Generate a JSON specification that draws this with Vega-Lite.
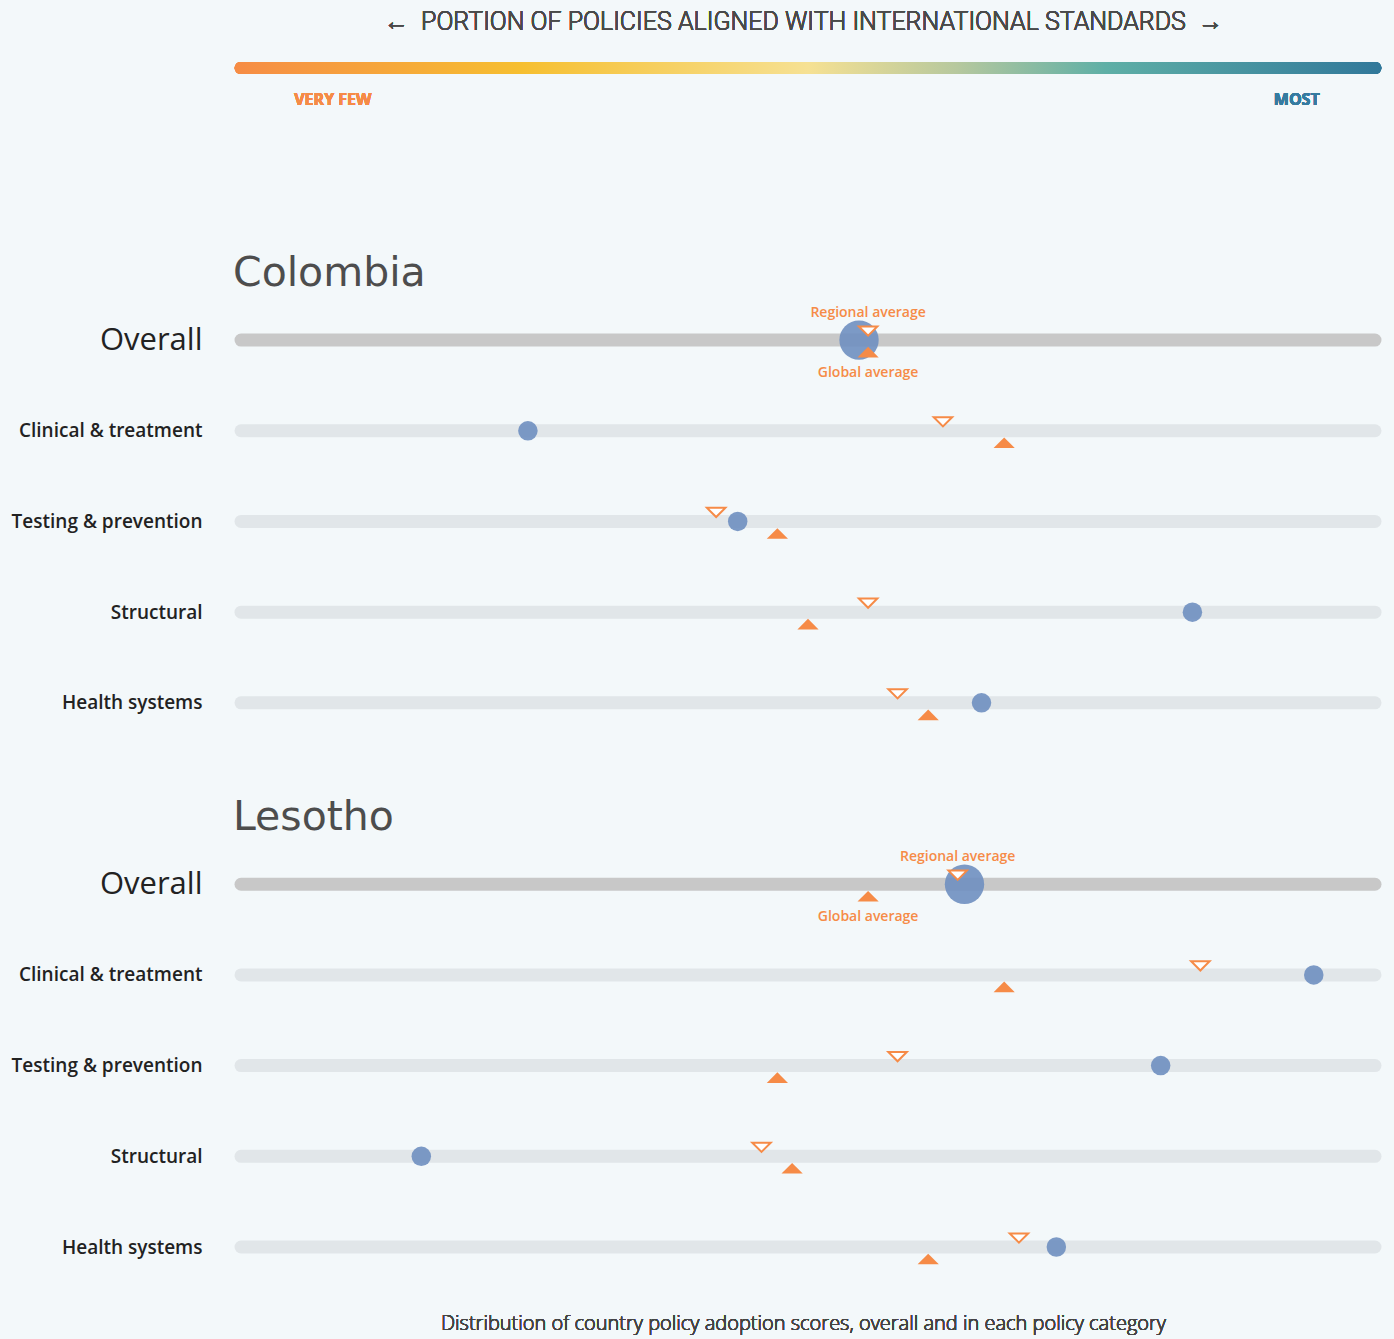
{
  "$schema": "https://vega.github.io/schema/vega-lite/v6.json",
  "autosize": "none",
  "width": 1134,
  "height": 1179,
  "padding": {"left": 241, "top": 68, "right": 19, "bottom": 92},
  "background": "#f3f8fa",
  "config": {"view": {"stroke": null}, "font": "Open Sans"},
  "data": {
    "values": [
      {"country": "Colombia", "category": "Overall", "key": "Colombia|Overall", "score": 54.5, "regional": 55.3, "global": 55.3},
      {"country": "Colombia", "category": "Clinical & treatment", "key": "Colombia|Clinical & treatment", "score": 25.3, "regional": 61.9, "global": 67.3},
      {"country": "Colombia", "category": "Testing & prevention", "key": "Colombia|Testing & prevention", "score": 43.8, "regional": 41.9, "global": 47.3},
      {"country": "Colombia", "category": "Structural", "key": "Colombia|Structural", "score": 83.9, "regional": 55.3, "global": 50.0},
      {"country": "Colombia", "category": "Health systems", "key": "Colombia|Health systems", "score": 65.3, "regional": 57.9, "global": 60.6},
      {"country": "Lesotho", "category": "Overall", "key": "Lesotho|Overall", "score": 63.8, "regional": 63.2, "global": 55.3},
      {"country": "Lesotho", "category": "Clinical & treatment", "key": "Lesotho|Clinical & treatment", "score": 94.6, "regional": 84.6, "global": 67.3},
      {"country": "Lesotho", "category": "Testing & prevention", "key": "Lesotho|Testing & prevention", "score": 81.1, "regional": 57.9, "global": 47.3},
      {"country": "Lesotho", "category": "Structural", "key": "Lesotho|Structural", "score": 15.9, "regional": 45.9, "global": 48.6},
      {"country": "Lesotho", "category": "Health systems", "key": "Lesotho|Health systems", "score": 71.9, "regional": 68.6, "global": 60.6}
    ]
  },
  "encoding": {
    "y": {
      "field": "key",
      "type": "ordinal",
      "scale": {
        "type": "point",
        "padding": 0,
        "domain": ["bar", "gap1", "gap2",
          "Colombia|Overall", "Colombia|Clinical & treatment", "Colombia|Testing & prevention", "Colombia|Structural", "Colombia|Health systems",
          "gap3",
          "Lesotho|Overall", "Lesotho|Clinical & treatment", "Lesotho|Testing & prevention", "Lesotho|Structural", "Lesotho|Health systems"]
      },
      "axis": {
        "title": null,
        "domain": false,
        "ticks": false,
        "labelPadding": 39,
        "labelLimit": 0,
        "labelOverlap": false,
        "labelBound": false,
        "labelColor": "#222222",
        "labelFont": "Open Sans",
        "labelFontSize": {"condition": {"test": "indexof(datum.value, 'Overall') >= 0", "value": 31}, "value": 19},
        "labelFontWeight": {"condition": {"test": "indexof(datum.value, 'Overall') >= 0", "value": 500}, "value": 600},
        "labelExpr": "indexof(datum.value, '|') >= 0 ? split(datum.value, '|')[1] : ''"
      }
    }
  },
  "layer": [
    {
      "mark": {"type": "rule", "strokeCap": "round"},
      "encoding": {
        "x": {"datum": 0, "type": "quantitative", "scale": {"domain": [0, 100]}, "axis": null},
        "x2": {"datum": 100},
        "color": {"condition": {"test": "datum.category === 'Overall'", "value": "#c8c8c8"}, "value": "#e1e6e9"},
        "strokeWidth": {"value": 13}
      }
    },
    {
      "mark": {"type": "bar", "height": 12, "cornerRadius": 6,
        "color": {"gradient": "linear", "x1": 0, "y1": 0, "x2": 1, "y2": 0,
          "stops": [
            {"offset": 0, "color": "#f68c45"},
            {"offset": 0.25, "color": "#f6bf30"},
            {"offset": 0.5, "color": "#f6e193"},
            {"offset": 0.63, "color": "#b6c89e"},
            {"offset": 0.76, "color": "#5eafa6"},
            {"offset": 1, "color": "#31789a"}
          ]}},
      "encoding": {
        "x": {"datum": -0.55, "type": "quantitative"},
        "x2": {"datum": 100.55},
        "y": {"datum": "bar"}
      }
    },
    {
      "mark": {"type": "text", "dy": -46, "fontSize": 25, "font": "Roboto", "fontWeight": 300, "color": "#4a4a4a"},
      "encoding": {
        "x": {"datum": 49.6, "type": "quantitative"},
        "y": {"datum": "bar"},
        "text": {"value": "← \u00a0PORTION OF POLICIES ALIGNED WITH INTERNATIONAL STANDARDS\u00a0 →"}
      }
    },
    {
      "mark": {"type": "text", "dy": 32, "fontSize": 16, "fontWeight": 700, "color": "#f68b47"},
      "encoding": {
        "x": {"datum": 8.1, "type": "quantitative"},
        "y": {"datum": "bar"},
        "text": {"value": "VERY FEW"}
      }
    },
    {
      "mark": {"type": "text", "dy": 32, "fontSize": 16, "fontWeight": 700, "color": "#357ba0"},
      "encoding": {
        "x": {"datum": 93.1, "type": "quantitative"},
        "y": {"datum": "bar"},
        "text": {"value": "MOST"}
      }
    },
    {
      "transform": [{"filter": "datum.category === 'Overall'"}],
      "mark": {"type": "text", "align": "left", "dx": -8, "dy": -66, "fontSize": 41, "font": "DejaVu Sans", "color": "#4d4d4d"},
      "encoding": {
        "x": {"datum": 0, "type": "quantitative"},
        "text": {"field": "country"}
      }
    },
    {
      "mark": {"type": "point", "shape": "circle", "filled": true, "color": "#6f8fc0", "opacity": 0.9, "strokeWidth": 0},
      "encoding": {
        "x": {"field": "score", "type": "quantitative"},
        "size": {"condition": {"test": "datum.category === 'Overall'", "value": 1550}, "value": 380}
      }
    },
    {
      "mark": {"type": "point", "shape": "M-1,-0.5L1,-0.5L0,0.5Z", "filled": true, "fill": "#ffffff", "stroke": "#f68b47", "strokeWidth": 2, "opacity": 1, "size": 340, "yOffset": -9},
      "encoding": {
        "x": {"field": "regional", "type": "quantitative"}
      }
    },
    {
      "mark": {"type": "point", "shape": "M-1,0.5L1,0.5L0,-0.5Z", "filled": true, "color": "#f68b47", "opacity": 1, "size": 450, "yOffset": 12},
      "encoding": {
        "x": {"field": "global", "type": "quantitative"}
      }
    },
    {
      "transform": [{"filter": "datum.category === 'Overall'"}],
      "mark": {"type": "text", "dy": -27, "fontSize": 14, "fontWeight": 600, "color": "#f68b47"},
      "encoding": {
        "x": {"field": "regional", "type": "quantitative"},
        "text": {"value": "Regional average"}
      }
    },
    {
      "transform": [{"filter": "datum.category === 'Overall'"}],
      "mark": {"type": "text", "dy": 33, "fontSize": 14, "fontWeight": 600, "color": "#f68b47"},
      "encoding": {
        "x": {"field": "global", "type": "quantitative"},
        "text": {"value": "Global average"}
      }
    },
    {
      "mark": {"type": "text", "dy": 77, "fontSize": 20, "fontWeight": 300, "color": "#444444"},
      "encoding": {
        "x": {"datum": 49.6, "type": "quantitative"},
        "y": {"datum": "Lesotho|Health systems"},
        "text": {"value": "Distribution of country policy adoption scores, overall and in each policy category"}
      }
    }
  ]
}
